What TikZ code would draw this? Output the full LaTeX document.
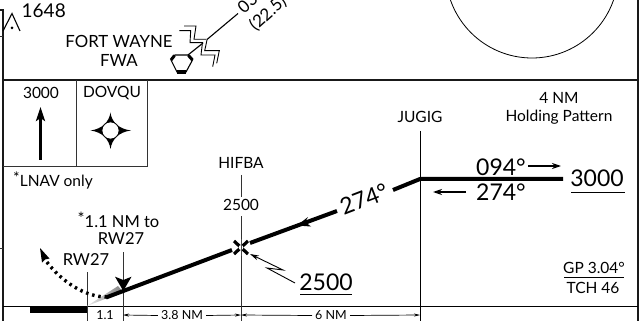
\documentclass[tikz,border=0pt]{standalone}
\usepackage{fontspec}
\setmainfont{Lato}
\usetikzlibrary{arrows.meta,shapes.geometric,fadings}
\tikzset{
 lbl/.style={inner sep=0pt,font=\fontsize{15.5}{17}\selectfont},
 small/.style={inner sep=0pt,font=\fontsize{12.5}{14}\selectfont},
 big/.style={inner sep=0pt,font=\fontsize{23}{25}\selectfont},
 mid/.style={inner sep=0pt,font=\fontsize{23}{25}\selectfont},
 frame/.style={line width=1.3pt,black!90},
 course/.style={line width=4pt,black},
 tick/.style={line width=0.8pt,black!80},
 pointer/.style={line width=1.2pt,-{Stealth[length=9pt,width=6pt]}},
 dimarrow/.style={line width=0.7pt,-{Stealth[length=6pt,width=3pt]}},
}
\begin{document}
\begin{tikzpicture}[x=1pt,y=-1pt]
\useasboundingbox (0,0) rectangle (641,321);
% frame
\coordinate (fl0) at (3,10); \coordinate (fl1) at (3,321);
\coordinate (fr0) at (638,0); \coordinate (fr1) at (638,321);
\coordinate (h0) at (3,80); \coordinate (h1) at (638,80);
\draw[frame,line width=1.6pt] (0,10) -- (fl0) -- (fl1);
\draw[frame] (fr0) -- (fr1);
\draw[frame,line width=1.6pt] (h0) -- (h1);
\draw[tick] (0,36) -- (3,36);
\draw[tick] (0,248) -- (3,248);
\draw[line width=0.9pt] (3,306) -- (638,306);
% circle
\draw[line width=0.8pt] (532,-28.3) circle (86.3);
% obstacle
\draw[line width=1.1pt] (3,31) -- (12,13.5) -- (20,31);
\fill (12,28) circle (1.5);
\node[lbl,anchor=west,font=\fontsize{19}{21}\selectfont] (elev) at (21.5,11) {1648};
% VOR
\node[lbl,font=\fontsize{16.8}{19}\selectfont] (fwname) at (119,41) {FORT WAYNE};
\node[lbl,font=\fontsize{16.8}{19}\selectfont] (fwid) at (119,60.5) {FWA};
\coordinate (v1) at (175,55); \coordinate (v2) at (188,55); \coordinate (v3) at (192.5,60);
\coordinate (v4) at (186,72); \coordinate (v5) at (177,72); \coordinate (v6) at (171,60);
\draw[line width=1.1pt] (v1) -- (v2) -- (v3) -- (v4) -- (v5) -- (v6) -- cycle;
\draw[line width=3pt] (188.5,55.5) -- (v3);
\draw[line width=3pt] (174.5,55.5) -- (v6);
\draw[line width=3.5pt] (v4) -- (v5);
\coordinate (rad) at (238,13.5);
\draw[line width=1.1pt] (v2) -- (203,43);
\draw[line width=1.1pt] (207,39.5) -- (rad);
\draw[line width=0.9pt] (179.3,30.7) -- (190.7,30.7) -- (190,42.7) -- (203,42.7);
\draw[line width=0.9pt] (184,26) -- (196,26) -- (194,39.3) -- (206.7,39.3);
\draw[line width=0.9pt] (207,40) -- (204.7,50.7) -- (219.3,50.7) -- (216.7,63.3);
\draw[line width=0.9pt] (202.3,44) -- (201,55) -- (215,55) -- (212.7,66.7);
\node[lbl,font=\fontsize{17}{19}\selectfont,rotate=42,anchor=west] (rad1) at (240,10) {03};
\node[lbl,font=\fontsize{17}{19}\selectfont,rotate=42,anchor=west] (rad2) at (252,28) {(22.5)};
% left panels
\draw[line width=1pt,black!80] (76,80) -- (76,167);
\draw[line width=1pt,black!80] (147,80) -- (147,167) -- (3,167);
\node[lbl] (t3000) at (41,93) {3000};
\node[lbl] (dov) at (112,93) {DOVQU};
\coordinate (upb) at (40.5,160); \coordinate (upt) at (40.5,107);
\draw[line width=2.8pt,-{Stealth[length=14pt,width=9pt,inset=3pt]}] (upb) -- (upt);
\fill (110.5,112.5) .. controls (111.5,122) and (119,129) .. (131,130.5)
  .. controls (119,132) and (112,139) .. (110.5,149)
  .. controls (109,139) and (102,132) .. (90.5,130.5)
  .. controls (102,129) and (109,122) .. (110.5,112.5) -- cycle;
\fill[white] (110.5,130.5) circle (8.6);
\draw[line width=.8pt] (110.5,130.5) circle (8.6);
\node[lbl,anchor=west] (lnav) at (13,180) {\raisebox{3pt}{*}LNAV only};
% labels
\node[lbl] (jug) at (420,117) {JUGIG};
\node[lbl] (nm4) at (559,98) {4 NM};
\node[lbl] (hold) at (559,117) {Holding Pattern};
\node[lbl] (hif) at (241,163) {HIFBA};
\node[lbl] (alt) at (241,205) {2500};
\node[lbl,font=\fontsize{16.5}{19}\selectfont] (nmto) at (118.5,220) {\raisebox{3pt}{*}1.1 NM to};
\node[lbl,font=\fontsize{16.5}{19}\selectfont] (rwa) at (121,239) {RW27};
\node[lbl,font=\fontsize{16.5}{19}\selectfont] (rwb) at (86,260) {RW27};
\node[mid,rotate=21] (deg1) at (364,199) {274°};
\node[mid] (d094) at (501,167) {094°};
\node[mid] (d274) at (501,192) {274°};
\node[big] (a3000) at (597,178) {3000};
\node[big] (a2500) at (326,282) {2500};
\draw[line width=.9pt] (571,192.5) -- (625,192.5);
\draw[line width=.9pt] (300,294) -- (352,294);
\node[lbl] (gp) at (594,268) {GP 3.04°};
\draw[line width=.9pt] (564,277.5) -- (624,277.5);
\node[lbl] (tch) at (593,288) {TCH 46};
% verticals
\coordinate (jt) at (420,131); \coordinate (jb) at (420,321);
\draw[line width=.9pt] (jt) -- (jb);
\draw[tick] (241,175) -- (241,197);
\draw[tick] (241,216) -- (241,321);
\draw[tick] (123,252) -- (123,321);
\draw[tick] (87,272) -- (87,321);
% wedge
\shade[left color=black!8,right color=black!50] (87,306) -- (118,286) -- (123,292) -- cycle;
% course
\coordinate (c0) at (106,297.5); \coordinate (c1) at (232,250); \coordinate (c2) at (250,243);
\coordinate (c3) at (337,211); \coordinate (c4) at (393,190); \coordinate (c5) at (420,179);
\coordinate (c6) at (563,179);
\draw[course] (c0) -- (c1);
\draw[course] (c2) -- (c3);
\draw[course,line join=bevel] (c4) -- (c5) -- (c6);
\fill (297,225.5) -- (308,217) -- (305,222) -- (311,226.5) -- cycle;
% X fix
\coordinate (fx) at (241,247.5);
\draw[line width=3.2pt] (234,241) -- (248,254);
\draw[line width=3.2pt] (248,241) -- (234,254);
\fill[white] (241,247.5) circle (2.4);
\draw[line width=.6pt,black!70] (241,239) -- (241,256);
% marker
\fill (115,276.7) -- (123.3,280) -- (131.5,276.7) -- (123.3,291) -- cycle;
% runway
\fill (30,306) rectangle (87,313);
% missed
\coordinate (m0) at (107,297); \coordinate (mt) at (40,248);
\draw[line width=3.4pt,dash pattern=on 2.5pt off 3.8pt] (m0) .. controls (85,297) and (62,282) .. (46,261);
\fill (mt) -- (49.5,258.5) -- (45,259.5) -- (42,262.5) -- cycle;
% holding arrows
\coordinate (hr0) at (528,166); \coordinate (hr1) at (561,166);
\coordinate (hl0) at (466,192); \coordinate (hl1) at (433,192);
\draw[pointer] (hr0) -- (hr1);
\draw[pointer] (hl0) -- (hl1);
% zigzag pointer
\draw[line width=.9pt,-{Stealth[length=9pt,width=5pt]}] (295,283) -- (267,268) -- (283,270) -- (250,254);
% dims
\node[small] (d11) at (105,315) {1.1};
\node[small] (d38) at (182,315.5) {3.8 NM};
\node[small] (d6) at (331,315.5) {6 NM};
\draw[dimarrow] (d38.west) ++(-3,0) -- (123,315);
\draw[dimarrow] (d38.east) ++(3,0) -- (241,315);
\draw[dimarrow] (d6.west) ++(-3,0) -- (241,315);
\draw[dimarrow] (d6.east) ++(3,0) -- (420,315);
\end{tikzpicture}
\end{document}
